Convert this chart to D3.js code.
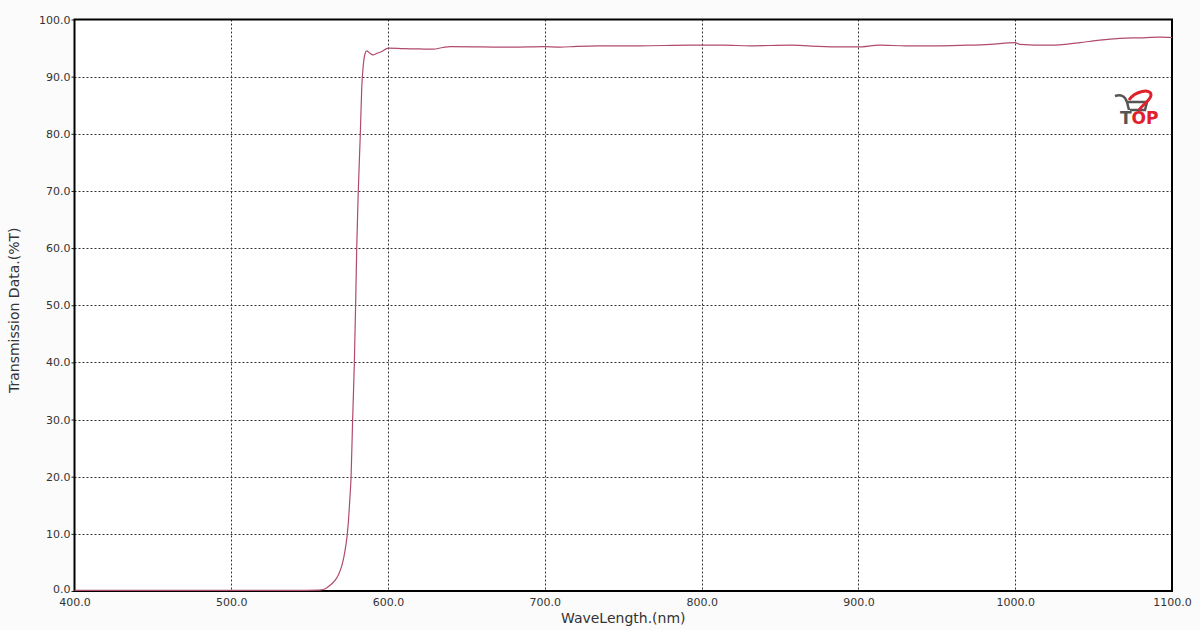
<!DOCTYPE html>
<html>
<head>
<meta charset="utf-8">
<script src="https://cdn.jsdelivr.net/npm/d3@7"></script>
<style>
  body { margin: 0; background: #fbfbfb; }
  svg { display: block; font-family: "DejaVu Sans", Verdana, sans-serif; }
</style>
</head>
<body>
<script>
// wavelength (nm) and transmission (%T)
var wavelength = [400, 450, 500, 540, 556, 560, 563, 566, 568.3, 570, 571.4, 572.5, 573.8, 574.8, 575.6, 576.4,
    577.4, 578.5, 579.3, 580, 581, 582.3, 583.2, 584.2, 585.3, 586.4, 588, 590.4, 593, 596, 600,
    610, 620, 628.6, 635, 639.5, 660, 680, 698.8, 709.7, 720, 735.2, 760, 792.6, 813.7, 830.9,
    856.4, 870, 888.2, 899.7, 913.7, 930, 952, 970, 983.9, 999.8, 1003, 1022, 1030, 1041.3, 1054,
    1066.8, 1079.5, 1092.3, 1100];
var transmission = [0.1, 0.1, 0.1, 0.1, 0.15, 0.4, 1.0, 1.8, 2.8, 4, 5.4, 7, 9.5, 12.5, 16, 20,
    30, 40, 50, 60, 70, 80, 88, 92, 94, 94.5, 94.2, 93.8, 94.1, 94.4, 95.0,
    94.9, 94.85, 94.8, 95.1, 95.25, 95.2, 95.15, 95.25, 95.15, 95.3, 95.4, 95.4, 95.5, 95.5, 95.4,
    95.5, 95.35, 95.2, 95.2, 95.5, 95.4, 95.4, 95.5, 95.65, 95.95, 95.65, 95.5, 95.6, 95.95, 96.4,
    96.7, 96.8, 96.9, 96.85];
var xTicks = [400, 500, 600, 700, 800, 900, 1000, 1100];
var yTicks = [0, 10, 20, 30, 40, 50, 60, 70, 80, 90, 100];

var width = 1200, height = 630;
var plotL = 74.5, plotR = 1172, plotT = 19.5, plotB = 591;

var svg = d3.select("body").append("svg")
    .attr("width", width)
    .attr("height", height);

svg.append("rect")
    .attr("x", plotL).attr("y", plotT)
    .attr("width", plotR - plotL).attr("height", plotB - plotT)
    .attr("fill", "#ffffff");

var x = d3.scaleLinear().domain([400, 1100]).range([plotL, plotR]);
var y = d3.scaleLinear().domain([0, 100]).range([plotB, plotT]);

// dotted grid
svg.append("g").selectAll("line")
    .data(xTicks.slice(1, -1))
    .enter().append("line")
    .attr("x1", d => Math.round(x(d)) + 0.5).attr("x2", d => Math.round(x(d)) + 0.5)
    .attr("y1", plotT).attr("y2", plotB)
    .attr("stroke", "#333")
    .attr("stroke-dasharray", "2,2");

svg.append("g").selectAll("line")
    .data(yTicks.slice(1, -1))
    .enter().append("line")
    .attr("x1", plotL).attr("x2", plotR)
    .attr("y1", d => Math.round(y(d)) + 0.5).attr("y2", d => Math.round(y(d)) + 0.5)
    .attr("stroke", "#333")
    .attr("stroke-dasharray", "2,2");

// axes
var xAxis = svg.append("g")
    .attr("transform", "translate(0," + plotB + ")")
    .call(d3.axisBottom(x).tickValues(xTicks).tickFormat(d3.format(".1f")).tickSize(0).tickPadding(7));
var yAxis = svg.append("g")
    .attr("transform", "translate(" + plotL + ",0)")
    .call(d3.axisLeft(y).tickValues(yTicks).tickFormat(d3.format(".1f")).tickSize(3).tickPadding(1));

[xAxis, yAxis].forEach(function (a) {
    a.select(".domain").remove();
    a.selectAll("text")
        .attr("fill", "#333")
        .style("font-size", "11px")
        .style("font-family", "'DejaVu Sans', Verdana, sans-serif");
    a.selectAll("line").attr("stroke", "#222");
});
// lift the 0.0 label a touch so it clears 400.0
yAxis.selectAll(".tick text").filter(d => d === 0).attr("dy", "0.1em");

// frame
svg.append("rect")
    .attr("x", plotL).attr("y", plotT)
    .attr("width", plotR - plotL).attr("height", plotB - plotT)
    .attr("fill", "none")
    .attr("stroke", "#000")
    .attr("stroke-width", 2);

// curve
var line = d3.line()
    .x((d, i) => x(wavelength[i]))
    .y(d => y(d))
    .curve(d3.curveMonotoneX);

svg.append("path")
    .datum(transmission)
    .attr("d", line)
    .attr("fill", "none")
    .attr("stroke", "#b04a70")
    .attr("stroke-width", 1.2);

// titles
svg.append("text")
    .attr("x", (plotL + plotR) / 2)
    .attr("y", 623)
    .attr("text-anchor", "middle")
    .attr("fill", "#333")
    .style("font-size", "14px")
    .text("WaveLength.(nm)");

svg.append("text")
    .attr("transform", "translate(19," + ((plotT + plotB) / 2 + 5) + ") rotate(-90)")
    .attr("text-anchor", "middle")
    .attr("fill", "#333")
    .style("font-size", "14px")
    .text("Transmission Data.(%T)");

// little watermark logo top right
var logo = svg.append("g").attr("transform", "translate(1115,88)");
logo.append("path")
    .attr("d", "M0,8 C6,6 10,8 12,14 L14,22 M12,14 L32,14 L30,22 L15,22")
    .attr("fill", "none").attr("stroke", "#555").attr("stroke-width", 2.5);
logo.append("path")
    .attr("d", "M14,12 C20,3 36,0 36,7 C36,12 28,16 24,22")
    .attr("fill", "none").attr("stroke", "#e0202a").attr("stroke-width", 3);
var logoText = logo.append("text")
    .attr("x", 5).attr("y", 36)
    .style("font-size", "17px").style("font-weight", "bold");
logoText.append("tspan").attr("fill", "#555").text("T");
logoText.append("tspan").attr("fill", "#e0202a").text("OP");
</script>
</body>
</html>
